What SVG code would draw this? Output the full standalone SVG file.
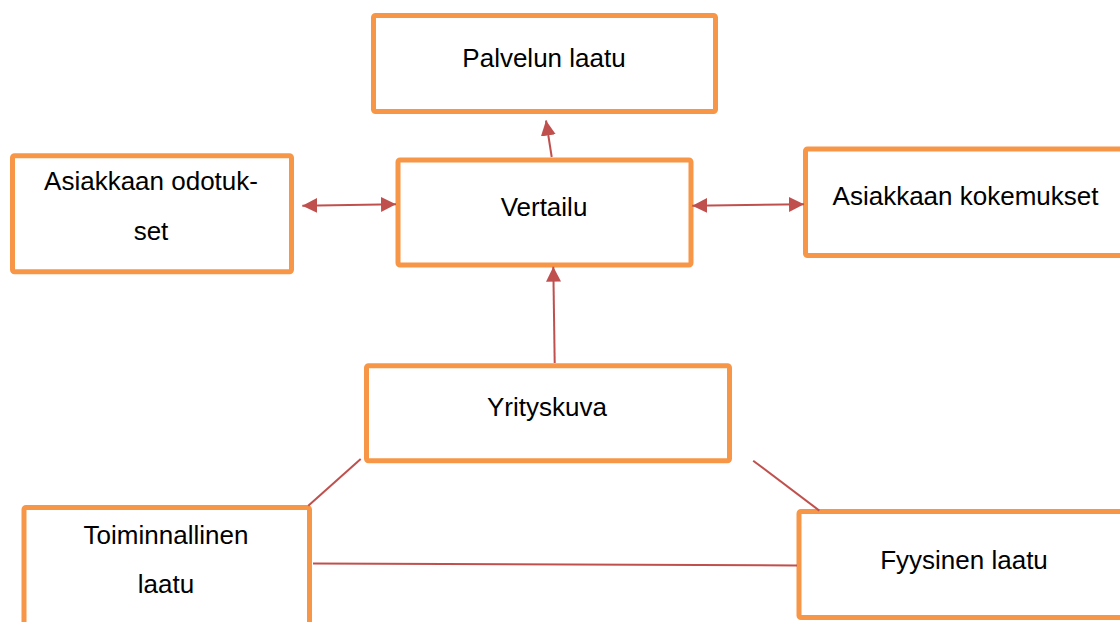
<svg xmlns="http://www.w3.org/2000/svg" width="1120" height="622" viewBox="0 0 1120 622">
  <style>
    .box { fill: #ffffff; stroke: #F79646; stroke-width: 5; }
    .lbl { font-family: "Liberation Sans", Arial, sans-serif; font-size: 26px; fill: #000000; text-anchor: middle; }
    .con { stroke: #C0504D; stroke-width: 2; fill: none; }
  </style>
  <defs>
    <marker id="arr" markerUnits="userSpaceOnUse" markerWidth="16" markerHeight="16" refX="15" refY="7.5" orient="auto-start-reverse" viewBox="0 0 16 16">
      <path d="M0,0 L15,7.5 L0,15 Z" fill="#C0504D"/>
    </marker>
  </defs>
  <rect width="1120" height="622" fill="#ffffff"/>

  <g id="palvelun-laatu">
    <rect class="box" x="373.5" y="15.5" width="342" height="96" rx="2"/>
    <text class="lbl" x="544" y="67">Palvelun laatu</text>
  </g>
  <g id="asiakkaan-odotukset">
    <rect class="box" x="12.5" y="155.8" width="279" height="116" rx="2"/>
    <text class="lbl" x="151" y="190">Asiakkaan odotuk-</text>
    <text class="lbl" x="151" y="240">set</text>
  </g>
  <g id="vertailu">
    <rect class="box" x="398" y="160" width="293" height="105" rx="2"/>
    <text class="lbl" x="544" y="216">Vertailu</text>
  </g>
  <g id="asiakkaan-kokemukset">
    <rect class="box" x="805.5" y="149" width="330" height="106.5" rx="2"/>
    <text class="lbl" x="965.5" y="205">Asiakkaan kokemukset</text>
  </g>
  <g id="yrityskuva">
    <rect class="box" x="366.5" y="365.8" width="363" height="95" rx="2"/>
    <text class="lbl" x="547" y="416">Yrityskuva</text>
  </g>
  <g id="toiminnallinen-laatu">
    <rect class="box" x="24" y="507.5" width="285.5" height="130" rx="2"/>
    <text class="lbl" x="166" y="544">Toiminnallinen</text>
    <text class="lbl" x="166" y="593">laatu</text>
  </g>
  <g id="fyysinen-laatu">
    <rect class="box" x="799" y="511.5" width="340" height="106" rx="2"/>
    <text class="lbl" x="964" y="569">Fyysinen laatu</text>
  </g>

  <g id="connectors">
    <line class="con" x1="551.7" y1="157" x2="546" y2="120.5" marker-end="url(#arr)"/>
    <line class="con" x1="302.3" y1="205.7" x2="396" y2="204.3" marker-start="url(#arr)" marker-end="url(#arr)"/>
    <line class="con" x1="692.3" y1="205.7" x2="804" y2="204.3" marker-start="url(#arr)" marker-end="url(#arr)"/>
    <line class="con" x1="554.7" y1="363" x2="553.3" y2="266.7" marker-end="url(#arr)"/>
    <line class="con" x1="360.7" y1="459" x2="308.3" y2="505.7"/>
    <line class="con" x1="753.2" y1="460.7" x2="819.3" y2="510.6"/>
    <line class="con" x1="313" y1="563.5" x2="797" y2="565.5"/>
  </g>
</svg>
